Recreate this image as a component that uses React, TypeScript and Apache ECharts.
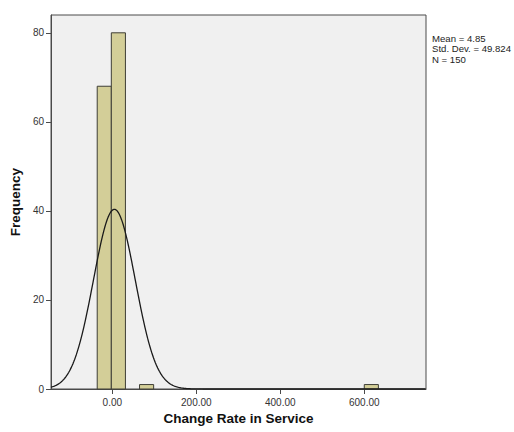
import React, { useEffect, useRef } from "react";
import * as echarts from "echarts";

// Histogram bins (data units) and frequencies
const binLo = [-36.0, -2.4, 64.8, 600.0];
const binHi = [-2.4, 31.2, 98.4, 633.6];
const binCounts = [68, 80, 1, 1];

// Statistics shown in the legend
const statMean = 4.85;
const statSD = 49.824;
const statN = 150;
const binWidth = 33.6;

const xTicks = [0, 200, 400, 600];
const yTicks = [0, 20, 40, 60, 80];
const xMin = -146;
const xMax = 747;
const yMax = 84;

// Fitted normal curve from the reported mean / sd / N
function normalCurve(): number[][] {
  const pts: number[][] = [];
  for (let x = xMin; x <= xMax; x += 2) {
    const z = (x - statMean) / statSD;
    const y = (statN * binWidth) / (statSD * Math.sqrt(2 * Math.PI)) * Math.exp(-0.5 * z * z);
    pts.push([x, y]);
  }
  return pts;
}

export default function App() {
  const ref = useRef<HTMLDivElement>(null);
  useEffect(() => {
    document.body.style.margin = "0";
    const chart = echarts.init(ref.current!, null, { renderer: "svg" });
    const font = "'Liberation Sans', Arial, sans-serif";
    const bars = binLo.map((lo, i) => [lo, binHi[i], binCounts[i]]);
    chart.setOption({
      animation: false,
      grid: {
        left: 51,
        top: 15,
        right: 88,
        bottom: 43,
        show: true,
        backgroundColor: "#f0f0f0",
        borderColor: "#4a4a4a",
        borderWidth: 1,
      },
      xAxis: {
        type: "value",
        min: xMin,
        max: xMax,
        name: "Change Rate in Service",
        nameLocation: "middle",
        nameGap: 22,
        nameTextStyle: { fontFamily: font, fontWeight: "bold", fontSize: 13.5, color: "#111" },
        axisLine: { show: true, onZero: false, lineStyle: { color: "#4a4a4a", width: 1 } },
        splitLine: { show: false },
        axisTick: { show: true, customValues: xTicks, length: 5, lineStyle: { color: "#4a4a4a" } },
        axisLabel: {
          customValues: xTicks,
          formatter: (v: number) => v.toFixed(2),
          fontFamily: font,
          fontSize: 10,
          color: "#333",
          margin: 8,
        },
      },
      yAxis: {
        type: "value",
        min: 0,
        max: yMax,
        name: "Frequency",
        nameLocation: "middle",
        nameGap: 26,
        nameTextStyle: { fontFamily: font, fontWeight: "bold", fontSize: 13.5, color: "#111" },
        axisLine: { show: true, onZero: false, lineStyle: { color: "#4a4a4a", width: 1 } },
        splitLine: { show: false },
        axisTick: { show: true, customValues: yTicks, length: 5, lineStyle: { color: "#4a4a4a" } },
        axisLabel: {
          customValues: yTicks,
          fontFamily: font,
          fontSize: 10,
          color: "#333",
          margin: 7,
        },
      },
      series: [
        {
          type: "custom",
          data: bars,
          renderItem: (params: any, api: any) => {
            const p0 = api.coord([api.value(0), 0]);
            const p1 = api.coord([api.value(1), api.value(2)]);
            return {
              type: "rect",
              shape: { x: p0[0], y: p1[1], width: p1[0] - p0[0], height: p0[1] - p1[1] },
              style: { fill: "#d3ce98", stroke: "#3e3e36", lineWidth: 1 },
            };
          },
          z: 2,
        },
        {
          type: "line",
          data: normalCurve(),
          showSymbol: false,
          smooth: false,
          lineStyle: { color: "#1a1a1a", width: 1.3 },
          z: 3,
        },
      ],
      graphic: [
        {
          type: "text",
          left: 432,
          top: 33,
          style: {
            text: `Mean = ${statMean}\nStd. Dev. = ${statSD}\nN = ${statN}`,
            fontFamily: font,
            fontSize: 9.6,
            lineHeight: 10.5,
            fill: "#222",
          },
        },
      ],
    });
    return () => chart.dispose();
  }, []);
  return <div ref={ref} style={{ width: 514, height: 432 }} />;
}
